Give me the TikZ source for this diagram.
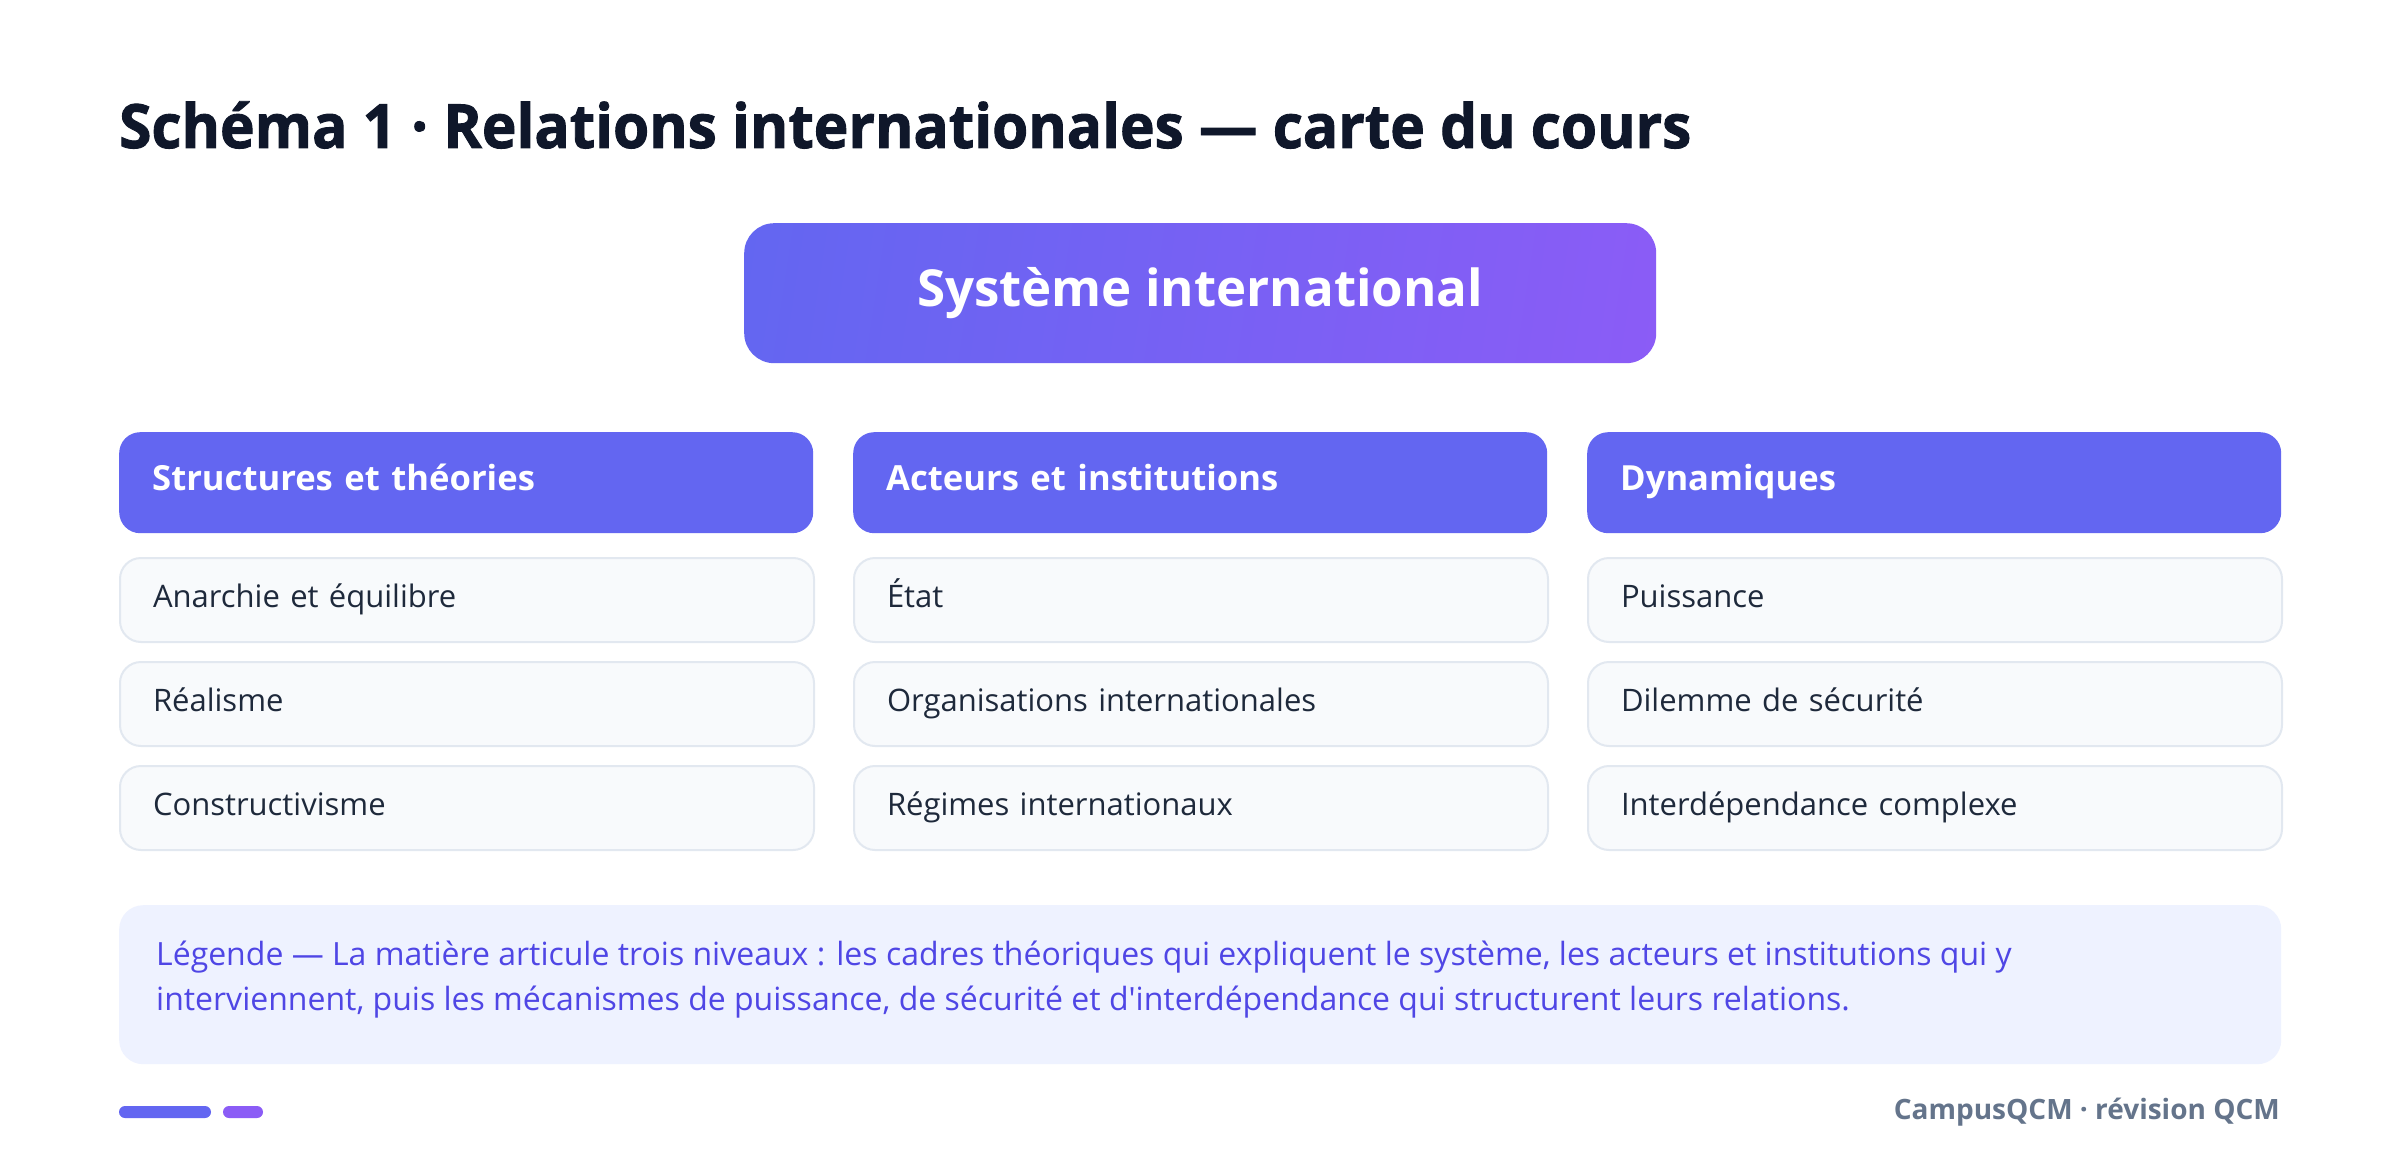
\documentclass[tikz,border=0pt]{standalone}
\usepackage{fontspec}
\setmainfont{Open Sans}[Ligatures=TeXOff]
\newfontfamily\titlefont{Open Sans}[Ligatures=TeXOff, FakeStretch=0.96, FakeBold=1.5]
\definecolor{indigo}{HTML}{6366F1}
\definecolor{violet}{HTML}{8B5CF6}
\definecolor{titlecol}{HTML}{0F172A}
\definecolor{itemfill}{HTML}{F8FAFC}
\definecolor{itemline}{HTML}{E2E8F0}
\definecolor{itemtext}{HTML}{1E293B}
\definecolor{legfill}{HTML}{EEF2FF}
\definecolor{legtext}{HTML}{4F46E5}
\definecolor{footcol}{HTML}{64748B}
\pgfdeclarehorizontalshading{sysgrad}{100bp}{color(0bp)=(indigo); color(21.5bp)=(indigo); color(78.5bp)=(violet); color(100bp)=(violet)}
\begin{document}
\begin{tikzpicture}[x=1pt,y=-1pt,
  hdr/.style={draw=none, fill=indigo, rounded corners=21pt, minimum width=694pt, minimum height=101pt,
    text width=628pt, align=left, inner xsep=33pt, inner ysep=0pt, anchor=north west, text=white,
    text height=25pt, text depth=10pt,
    font=\fontsize{34.6}{42}\selectfont\bfseries},
  itembox/.style={draw=itemline, line width=2pt, fill=itemfill, rounded corners=21pt, minimum width=694pt,
    minimum height=84pt, text width=628pt, align=left, inner xsep=33pt, inner ysep=0pt, anchor=north west,
    text height=22pt, text depth=8pt,
    text=itemtext, font=\fontsize{31}{37}\selectfont}]
\useasboundingbox[fill=white] (0,0) rectangle (2400,1174);

\node[anchor=base west, inner sep=0pt, text=titlecol, font=\fontsize{61}{70}\titlefont\bfseries] (title) at (119,148)
  {Schéma 1 · Relations internationales — carte du cours};

\node[anchor=north west, minimum width=912pt, minimum height=140pt, rounded corners=30pt,
  shade, shading=sysgrad, shading angle=-8.7, text=white,
  font=\fontsize{51}{58}\selectfont\bfseries] (sys) at (744,223) {Système international};

\node[hdr] (h1) at (119,432) {Structures et théories};
\node[hdr] (h2) at (853,432) {Acteurs et institutions};
\node[hdr] (h3) at (1587,432) {Dynamiques};

\node[itembox] (a1) at (119,557) {Anarchie et équilibre};
\node[itembox] (a2) at (119,661) {Réalisme};
\node[itembox] (a3) at (119,765) {Constructivisme};

\node[itembox] (b1) at (853,557) {État};
\node[itembox] (b2) at (853,661) {Organisations internationales};
\node[itembox] (b3) at (853,765) {Régimes internationaux};

\node[itembox] (c1) at (1587,557) {Puissance};
\node[itembox] (c2) at (1587,661) {Dilemme de sécurité};
\node[itembox] (c3) at (1587,765) {Interdépendance complexe};

\node[anchor=north west, fill=legfill, rounded corners=24pt, minimum width=2162pt, minimum height=159pt] (leg) at (119,905) {};
\node[anchor=west, align=left, inner sep=0pt, text=legtext, font=\fontsize{32}{45}\selectfont] (legtxt) at (156,980)
  {Légende — La matière articule trois niveaux : les cadres théoriques qui expliquent le système, les acteurs et institutions qui y\\
   interviennent, puis les mécanismes de puissance, de sécurité et d'interdépendance qui structurent leurs relations.};

\fill[indigo, rounded corners=6pt] (119,1106) rectangle (211,1118);
\fill[violet, rounded corners=6pt] (223,1106) rectangle (263,1118);

\node[anchor=east, inner sep=0pt, text=footcol, font=\fontsize{28}{34}\selectfont\bfseries] (foot) at (2280,1112)
  {CampusQCM · révision QCM};
\end{tikzpicture}
\end{document}
